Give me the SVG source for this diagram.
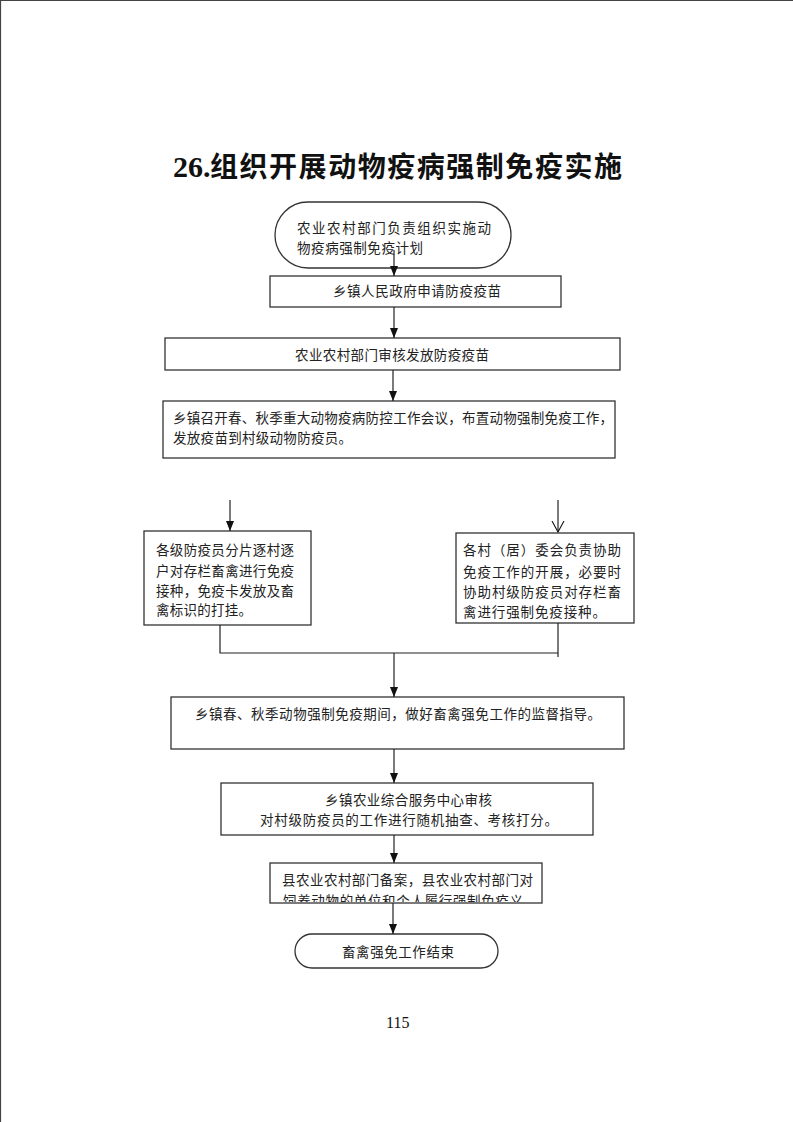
<svg xmlns="http://www.w3.org/2000/svg" width="793" height="1122" viewBox="0 0 793 1122">
<style>
.box{fill:#fff;stroke:#333;stroke-width:1.3}
.t{font-family:"Noto Sans CJK SC","Liberation Serif",sans-serif;font-size:13.5px;fill:#222}
.c{fill:none;stroke:#222;stroke-width:1.2}
</style>
<defs>
<marker id="ah" markerUnits="userSpaceOnUse" markerWidth="10" markerHeight="10" viewBox="0 0 10 10" refX="10" refY="5" orient="auto">
<path d="M0,1 L10,5 L0,9 Z" fill="#111"/>
</marker>
<marker id="ao" markerUnits="userSpaceOnUse" markerWidth="12" markerHeight="14" viewBox="0 0 12 14" refX="11" refY="7" orient="auto">
<path d="M0,1 L11,7 L0,13" fill="none" stroke="#111" stroke-width="1.1"/>
</marker>
<clipPath id="clip9"><rect x="271" y="864" width="270" height="38"/></clipPath>
</defs>
<rect width="793" height="1122" fill="#fff"/>
<path d="M0.5,1122 V0.5 H793" fill="none" stroke="#444" stroke-width="1.2"/>

<text x="173" y="177" font-family="Liberation Serif,serif" font-weight="bold" font-size="30" fill="#111">26.</text>
<text x="210" y="177" font-family="Noto Sans CJK SC,sans-serif" font-weight="bold" font-size="28" fill="#111" textLength="412" lengthAdjust="spacing">组织开展动物疫病强制免疫实施</text>

<g id="n1">
<rect class="box" x="275" y="202" width="236" height="66" rx="33"/>
<text class="t" x="297" y="233" textLength="194" lengthAdjust="spacing">农业农村部门负责组织实施动</text>
<text class="t" x="297" y="253" textLength="126" lengthAdjust="spacing">物疫病强制免疫计划</text>
</g>
<g id="n2">
<rect class="box" x="270" y="276" width="291" height="31"/>
<text class="t" x="333" y="296" textLength="168" lengthAdjust="spacing">乡镇人民政府申请防疫疫苗</text>
</g>
<g id="n3">
<rect class="box" x="165" y="338" width="455" height="32"/>
<text class="t" x="295" y="360" textLength="194" lengthAdjust="spacing">农业农村部门审核发放防疫疫苗</text>
</g>
<g id="n4">
<rect class="box" x="163" y="401" width="452" height="57"/>
<text class="t" x="173" y="423" textLength="440" lengthAdjust="spacing">乡镇召开春、秋季重大动物疫病防控工作会议，布置动物强制免疫工作，</text>
<text class="t" x="173" y="443" textLength="179" lengthAdjust="spacing">发放疫苗到村级动物防疫员。</text>
</g>
<g id="n5">
<rect class="box" x="144" y="531" width="167" height="94"/>
<text class="t" x="156" y="555" textLength="138" lengthAdjust="spacing">各级防疫员分片逐村逐</text>
<text class="t" x="156" y="576" textLength="138" lengthAdjust="spacing">户对存栏畜禽进行免疫</text>
<text class="t" x="156" y="596" textLength="138" lengthAdjust="spacing">接种，免疫卡发放及畜</text>
<text class="t" x="156" y="615" textLength="96" lengthAdjust="spacing">禽标识的打挂。</text>
</g>
<g id="n6">
<rect class="box" x="456" y="533" width="178" height="90"/>
<text class="t" x="463" y="555" textLength="158" lengthAdjust="spacing">各村（居）委会负责协助</text>
<text class="t" x="463" y="577" textLength="158" lengthAdjust="spacing">免疫工作的开展，必要时</text>
<text class="t" x="463" y="597" textLength="158" lengthAdjust="spacing">协助村级防疫员对存栏畜</text>
<text class="t" x="463" y="617" textLength="143" lengthAdjust="spacing">禽进行强制免疫接种。</text>
</g>
<g id="n7">
<rect class="box" x="171" y="697" width="453" height="52"/>
<text class="t" x="195" y="719" textLength="406" lengthAdjust="spacing">乡镇春、秋季动物强制免疫期间，做好畜禽强免工作的监督指导。</text>
</g>
<g id="n8">
<rect class="box" x="221" y="783" width="372" height="52"/>
<text class="t" x="325" y="805" textLength="167" lengthAdjust="spacing">乡镇农业综合服务中心审核</text>
<text class="t" x="260" y="825" textLength="298" lengthAdjust="spacing">对村级防疫员的工作进行随机抽查、考核打分。</text>
</g>
<g id="n9">
<rect class="box" x="270" y="863" width="272" height="40"/>
<text class="t" x="282" y="885" textLength="251" lengthAdjust="spacing">县农业农村部门备案，县农业农村部门对</text>
<text class="t" x="283" y="906" textLength="240" lengthAdjust="spacing" clip-path="url(#clip9)">饲养动物的单位和个人履行强制免疫义</text>
</g>
<g id="n10">
<rect class="box" x="295" y="934" width="203" height="34" rx="17"/>
<text class="t" x="342" y="957" textLength="112" lengthAdjust="spacing">畜禽强免工作结束</text>
</g>

<g id="connectors">
<line class="c" x1="394" y1="250" x2="394" y2="276" marker-end="url(#ah)"/>
<line class="c" x1="394" y1="307" x2="394" y2="338" marker-end="url(#ah)"/>
<line class="c" x1="393" y1="370" x2="393" y2="401" marker-end="url(#ah)"/>
<line class="c" x1="230" y1="500" x2="230" y2="531" marker-end="url(#ah)"/>
<line class="c" x1="558" y1="500" x2="558" y2="532" marker-end="url(#ao)"/>
<path class="c" d="M220,625 V653 H558"/>
<line class="c" x1="558" y1="623" x2="558" y2="657"/>
<line class="c" x1="394" y1="653" x2="394" y2="697" marker-end="url(#ah)"/>
<line class="c" x1="394" y1="749" x2="394" y2="783" marker-end="url(#ah)"/>
<line class="c" x1="394" y1="835" x2="394" y2="863" marker-end="url(#ah)"/>
<line class="c" x1="393" y1="903" x2="393" y2="934" marker-end="url(#ah)"/>
</g>

<text x="386" y="1028" font-family="Liberation Serif,serif" font-size="16" fill="#111">115</text>
</svg>
